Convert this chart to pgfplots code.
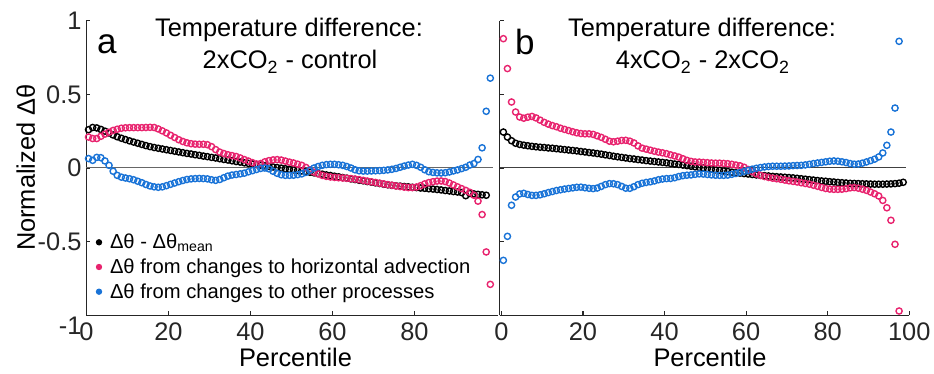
\documentclass[border=0pt]{standalone}
\usepackage{pgfplots}
\usepackage{pgfplotstable}
\pgfplotsset{compat=1.18}
\usepackage{fontspec}
\setmainfont{Liberation Sans}
\definecolor{cblk}{RGB}{0,0,0}
\definecolor{cred}{RGB}{232,35,110}
\definecolor{cblu}{RGB}{25,115,215}
\definecolor{axc}{RGB}{38,38,38}

\pgfplotstableread{
p k r b
0.5 0.260 0.210 0.064
1.5 0.275 0.200 0.052
2.5 0.272 0.200 0.072
3.5 0.262 0.215 0.070
4.5 0.250 0.230 0.048
5.5 0.238 0.243 0.018
6.5 0.224 0.255 -0.022
7.5 0.212 0.263 -0.050
8.5 0.202 0.270 -0.062
9.5 0.193 0.273 -0.068
10.5 0.184 0.274 -0.073
11.5 0.176 0.274 -0.080
12.5 0.168 0.274 -0.090
13.5 0.160 0.274 -0.100
14.5 0.152 0.275 -0.112
15.5 0.145 0.276 -0.122
16.5 0.139 0.275 -0.128
17.5 0.134 0.265 -0.131
18.5 0.129 0.252 -0.128
19.5 0.124 0.238 -0.120
20.5 0.119 0.222 -0.111
21.5 0.114 0.207 -0.102
22.5 0.109 0.192 -0.093
23.5 0.104 0.180 -0.085
24.5 0.099 0.171 -0.078
25.5 0.095 0.165 -0.074
26.5 0.090 0.162 -0.072
27.5 0.086 0.161 -0.071
28.5 0.081 0.161 -0.072
29.5 0.077 0.158 -0.074
30.5 0.072 0.145 -0.080
31.5 0.068 0.125 -0.084
32.5 0.063 0.108 -0.078
33.5 0.058 0.098 -0.066
34.5 0.054 0.090 -0.055
35.5 0.049 0.084 -0.048
36.5 0.044 0.078 -0.044
37.5 0.040 0.068 -0.040
38.5 0.035 0.057 -0.035
39.5 0.031 0.047 -0.026
40.5 0.027 0.036 -0.018
41.5 0.023 0.027 -0.010
42.5 0.019 0.030 -0.003
43.5 0.015 0.042 0.000
44.5 0.011 0.050 -0.006
45.5 0.007 0.055 -0.022
46.5 0.003 0.057 -0.036
47.5 -0.001 0.054 -0.046
48.5 -0.005 0.047 -0.050
49.5 -0.009 0.040 -0.050
50.5 -0.012 0.034 -0.049
51.5 -0.016 0.026 -0.045
52.5 -0.020 0.018 -0.040
53.5 -0.024 0.004 -0.030
54.5 -0.029 -0.012 -0.015
55.5 -0.033 -0.028 0.000
56.5 -0.038 -0.040 0.010
57.5 -0.042 -0.050 0.018
58.5 -0.047 -0.057 0.023
59.5 -0.051 -0.061 0.025
60.5 -0.056 -0.064 0.025
61.5 -0.060 -0.066 0.022
62.5 -0.065 -0.068 0.018
63.5 -0.069 -0.070 0.010
64.5 -0.074 -0.072 0.000
65.5 -0.078 -0.075 -0.012
66.5 -0.083 -0.079 -0.019
67.5 -0.087 -0.084 -0.021
68.5 -0.092 -0.089 -0.021
69.5 -0.096 -0.094 -0.020
70.5 -0.101 -0.098 -0.019
71.5 -0.105 -0.103 -0.018
72.5 -0.110 -0.108 -0.016
73.5 -0.114 -0.113 -0.013
74.5 -0.118 -0.117 -0.009
75.5 -0.121 -0.122 -0.003
76.5 -0.123 -0.126 0.005
77.5 -0.126 -0.130 0.013
78.5 -0.128 -0.133 0.020
79.5 -0.131 -0.133 0.025
80.5 -0.133 -0.129 0.018
81.5 -0.136 -0.120 0.005
82.5 -0.138 -0.108 -0.012
83.5 -0.141 -0.099 -0.025
84.5 -0.143 -0.093 -0.030
85.5 -0.146 -0.089 -0.033
86.5 -0.149 -0.088 -0.034
87.5 -0.153 -0.092 -0.032
88.5 -0.156 -0.102 -0.027
89.5 -0.160 -0.115 -0.020
90.5 -0.163 -0.128 -0.013
91.5 -0.167 -0.140 -0.004
92.5 -0.188 -0.152 0.005
93.5 -0.173 -0.165 0.020
94.5 -0.176 -0.185 0.030
95.5 -0.179 -0.225 0.058
96.5 -0.182 -0.316 0.137
97.5 -0.185 -0.570 0.385
98.5 nan -0.790 0.610
}\tblA

\pgfplotstableread{
p k r b
0.5 0.244 0.878 -0.627
1.5 0.210 0.675 -0.464
2.5 0.185 0.448 -0.253
3.5 0.168 0.380 -0.197
4.5 0.160 0.346 -0.176
5.5 0.155 0.338 -0.172
6.5 0.151 0.345 -0.180
7.5 0.147 0.350 -0.186
8.5 0.144 0.340 -0.186
9.5 0.141 0.325 -0.182
10.5 0.139 0.310 -0.175
11.5 0.136 0.298 -0.167
12.5 0.134 0.288 -0.160
13.5 0.131 0.280 -0.153
14.5 0.128 0.270 -0.148
15.5 0.125 0.262 -0.143
16.5 0.122 0.254 -0.139
17.5 0.119 0.246 -0.135
18.5 0.116 0.239 -0.131
19.5 0.112 0.234 -0.130
20.5 0.109 0.232 -0.134
21.5 0.105 0.232 -0.138
22.5 0.102 0.228 -0.140
23.5 0.098 0.218 -0.136
24.5 0.094 0.208 -0.125
25.5 0.089 0.195 -0.113
26.5 0.085 0.182 -0.106
27.5 0.080 0.178 -0.107
28.5 0.076 0.182 -0.113
29.5 0.072 0.187 -0.125
30.5 0.068 0.188 -0.137
31.5 0.064 0.182 -0.138
32.5 0.061 0.170 -0.127
33.5 0.057 0.150 -0.113
34.5 0.054 0.135 -0.104
35.5 0.050 0.128 -0.098
36.5 0.047 0.121 -0.094
37.5 0.044 0.114 -0.088
38.5 0.041 0.108 -0.080
39.5 0.038 0.103 -0.075
40.5 0.035 0.097 -0.072
41.5 0.031 0.089 -0.071
42.5 0.027 0.082 -0.066
43.5 0.024 0.074 -0.058
44.5 0.020 0.063 -0.052
45.5 0.016 0.052 -0.049
46.5 0.012 0.045 -0.047
47.5 0.008 0.041 -0.043
48.5 0.004 0.040 -0.040
49.5 0.000 0.038 -0.041
50.5 -0.004 0.036 -0.044
51.5 -0.008 0.034 -0.047
52.5 -0.012 0.033 -0.049
53.5 -0.016 0.033 -0.050
54.5 -0.020 0.031 -0.050
55.5 -0.024 0.029 -0.048
56.5 -0.028 0.025 -0.043
57.5 -0.032 0.020 -0.037
58.5 -0.035 0.015 -0.031
59.5 -0.038 0.005 -0.024
60.5 -0.041 -0.010 -0.016
61.5 -0.044 -0.025 -0.008
62.5 -0.047 -0.040 -0.002
63.5 -0.050 -0.050 0.003
64.5 -0.052 -0.058 0.007
65.5 -0.054 -0.064 0.010
66.5 -0.057 -0.069 0.012
67.5 -0.059 -0.073 0.012
68.5 -0.061 -0.077 0.012
69.5 -0.063 -0.082 0.013
70.5 -0.065 -0.087 0.014
71.5 -0.067 -0.091 0.016
72.5 -0.070 -0.095 0.017
73.5 -0.073 -0.100 0.018
74.5 -0.076 -0.105 0.021
75.5 -0.079 -0.110 0.025
76.5 -0.082 -0.117 0.030
77.5 -0.085 -0.124 0.034
78.5 -0.088 -0.132 0.038
79.5 -0.090 -0.139 0.042
80.5 -0.093 -0.143 0.046
81.5 -0.095 -0.145 0.048
82.5 -0.098 -0.145 0.046
83.5 -0.100 -0.144 0.042
84.5 -0.102 -0.140 0.037
85.5 -0.104 -0.135 0.030
86.5 -0.105 -0.133 0.026
87.5 -0.106 -0.137 0.027
88.5 -0.107 -0.144 0.033
89.5 -0.108 -0.152 0.041
90.5 -0.109 -0.163 0.050
91.5 -0.110 -0.175 0.060
92.5 -0.110 -0.190 0.075
93.5 -0.110 -0.220 0.102
94.5 -0.109 -0.270 0.154
95.5 -0.108 -0.355 0.244
96.5 -0.106 -0.518 0.407
97.5 -0.103 -0.971 0.860
98.5 -0.097 nan nan
}\tblB

\pgfplotsset{
  panel/.style={
    scale only axis, height=147.3pt, ymin=-1, ymax=1,
    anchor=south west,
    axis x line*=bottom, axis y line*=left,
    axis line style={axc, line width=0.6pt, -},
    tick align=inside, major tick length=2pt,
    tick style={axc, line width=0.6pt},
    ticklabel style={font=\fontsize{12.7}{14}\selectfont, text=axc},
    yticklabel style={inner xsep=2.3pt},
    ytick={-1,-0.5,0,0.5,1},
    clip=false,
  },
  ser/.style={only marks, mark=o, mark size=1.55pt, mark options={line width=0.7pt}, forget plot},
}

\newcommand{\bigfont}{\fontsize{12.7}{15}\selectfont}

\begin{document}
\begin{tikzpicture}
\begin{axis}[panel, at={(43.25pt,29.35pt)}, width=205.6pt,
  xmin=0, xmax=100.3,
  xtick={0,20,40,60,80}, xticklabels={0,20,40,60,80},
  yticklabels={\raisebox{-9.5pt}[0pt][0pt]{-1},-0.5,0,0.5,1},
  legend style={at={(axis cs:2.27,-0.4386)}, anchor=north west, draw=none, fill=none,
    inner sep=0pt, outer sep=0pt, row sep=1.85pt, column sep=3.9pt,
    font=\fontsize{10.1}{12}\selectfont,
    nodes={inner sep=0pt, text height=8pt, text depth=2.5pt, text=black}},
  legend cell align=left,
  legend image code/.code={\path[#1] (1.6pt,0.4pt) circle (1.6pt);},
]
\addplot[black!60, line width=0.5pt, forget plot] coordinates {(0,0) (99.2,0)};
\addplot[ser, cblk] table[x=p, y=k] {\tblA};
\addplot[ser, cred] table[x=p, y=r] {\tblA};
\addplot[ser, cblu] table[x=p, y=b] {\tblA};
\addlegendimage{draw=none, fill=cblk}
\addlegendentry{Δθ - Δθ\textsubscript{mean}}
\addlegendimage{draw=none, fill=cred}
\addlegendentry{Δθ from changes to horizontal advection}
\addlegendimage{draw=none, fill=cblu}
\addlegendentry{Δθ from changes to other processes}
\end{axis}

\begin{axis}[panel, at={(249.85pt,29.35pt)}, width=204.8pt,
  xmin=-0.4, xmax=100,
  xtick={0,20,40,60,80,100}, xticklabels={0,20,40,60,80,100},
  yticklabels={},
]
\addplot[black!75, line width=0.5pt, forget plot] coordinates {(-0.4,0) (99.2,0)};
\addplot[ser, cblk] table[x=p, y=k] {\tblB};
\addplot[ser, cred] table[x=p, y=r] {\tblB};
\addplot[ser, cblu] table[x=p, y=b] {\tblB};
\end{axis}

% labels
\node[rotate=90, anchor=base, font=\bigfont] at (17.5pt,103.15pt) {Normalized Δθ};
\node[anchor=base, font=\bigfont] at (147.75pt,3.65pt) {Percentile};
\node[anchor=base, font=\bigfont] at (355pt,3.65pt) {Percentile};
\node[anchor=base, font=\bigfont] at (144.5pt,168.65pt) {Temperature difference:};
\node[anchor=base, font=\bigfont] at (145pt,152.5pt) {2xCO\textsubscript{2} - control};
\node[anchor=base, font=\bigfont] at (351pt,168.65pt) {Temperature difference:};
\node[anchor=base, font=\bigfont] at (351.5pt,152.5pt) {4xCO\textsubscript{2} - 2xCO\textsubscript{2}};
\node[anchor=base west, inner sep=0pt, font=\fontsize{17.5}{20}\selectfont] at (48.35pt,160.35pt) {a};
\node[anchor=base west, inner sep=0pt, font=\fontsize{17.5}{20}\selectfont] at (257.35pt,159.85pt) {b};

\pgfresetboundingbox
\useasboundingbox (0,0) rectangle (467pt,187pt);
\end{tikzpicture}
\end{document}
